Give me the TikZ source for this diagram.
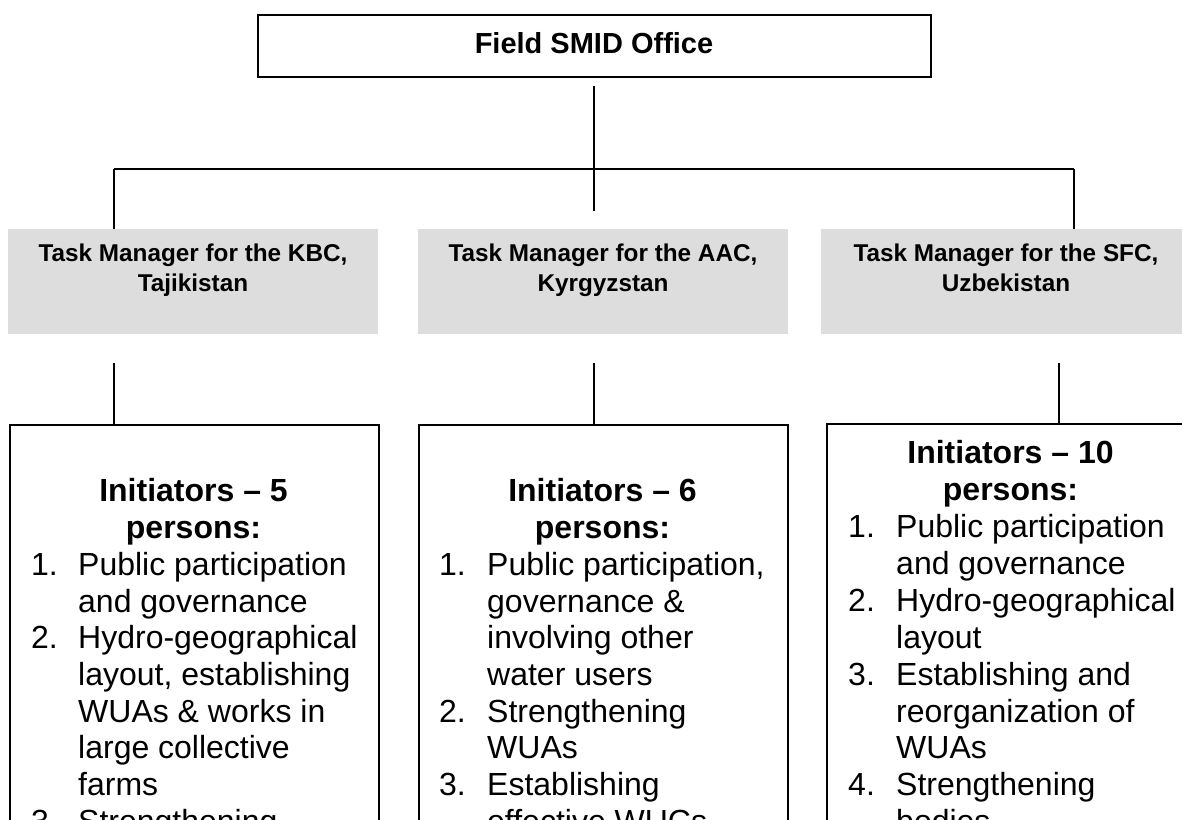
\documentclass[tikz,border=0pt]{standalone}
\usepackage{fontspec}
\setmainfont{Liberation Sans}
\definecolor{tmgray}{RGB}{221,221,221}
\begin{document}
\begin{tikzpicture}[x=1pt,y=-1pt,
  conn/.style={line width=1.8pt, black},
  topbox/.style={draw, line width=1.8pt, minimum width=673pt, minimum height=62pt, inner sep=0pt},
  toptext/.style={anchor=base, inner sep=0pt, font=\fontsize{29}{34}\selectfont\bfseries},
  tmbox/.style={fill=tmgray, minimum width=370pt, minimum height=105pt, inner sep=0pt, anchor=north west},
  tmtext/.style={anchor=base, inner sep=0pt, font=\fontsize{24.3}{30}\selectfont\bfseries},
  inbox/.style={draw, line width=1.8pt, minimum width=369pt, minimum height=430pt, inner sep=0pt, anchor=north west},
  headtext/.style={anchor=base, inner sep=0pt, font=\fontsize{32}{37}\selectfont\bfseries},
  numtext/.style={anchor=base west, inner sep=0pt, font=\fontsize{32}{37}\selectfont},
  itemtext/.style={anchor=base west, inner sep=0pt, font=\fontsize{32}{37}\selectfont}
]
\useasboundingbox (0,0) rectangle (1182,819);
\clip (0,0) rectangle (1182,819);

% top box
\node[topbox] (top) at (594.5,46) {};
\node[toptext] (toptxt) at (594,53) {Field SMID Office};

% task manager boxes
\node[tmbox] (tm1) at (8,229) {};
\node[tmbox] (tm2) at (418,229) {};
\node[tmbox] (tm3) at (821,229) {};
\node[tmtext] (tm1a) at (193,261) {Task Manager for the KBC,};
\node[tmtext] (tm1b) at (193,291) {Tajikistan};
\node[tmtext] (tm2a) at (603,261) {Task Manager for the AAC,};
\node[tmtext] (tm2b) at (603,291) {Kyrgyzstan};
\node[tmtext] (tm3a) at (1006,261) {Task Manager for the SFC,};
\node[tmtext] (tm3b) at (1006,291) {Uzbekistan};

% initiator boxes
\node[inbox] (in1) at (9,424) {};
\node[inbox] (in2) at (418,424) {};
\node[inbox] (in3) at (826,423) {};

% connector coordinates
\coordinate (cTop) at (594,86);
\coordinate (cEnd) at (594,211);
\coordinate (hL) at (114,169);
\coordinate (hR) at (1074,169);
\coordinate (d1) at (114,363);
\coordinate (d2) at (594,363);
\coordinate (d3) at (1059,363);

\draw[conn] (cTop) -- (cEnd);
\draw[conn] (hL) -- (hR);
\draw[conn] (hL) -- (hL |- tm1.north);
\draw[conn] (hR) -- (hR |- tm3.north);
\draw[conn] (d1) -- (d1 |- in1.north);
\draw[conn] (d2) -- (d2 |- in2.north);
\draw[conn] (d3) -- (d3 |- in3.north);

% box 1 text
\node[headtext] (h1a) at (193.5,501) {Initiators – 5};
\node[headtext] (h1b) at (193.5,538) {persons:};
\node[numtext] (n11) at (31,575) {1.};
\node[itemtext] (t11) at (78,575) {Public participation};
\node[itemtext] (t12) at (78,612) {and governance};
\node[numtext] (n12) at (31,648) {2.};
\node[itemtext] (t13) at (78,648) {Hydro-geographical};
\node[itemtext] (t14) at (78,685) {layout, establishing};
\node[itemtext] (t15) at (78,722) {WUAs \& works in};
\node[itemtext] (t16) at (78,758) {large collective};
\node[itemtext] (t17) at (78,795) {farms};
\node[numtext] (n13) at (31,832) {3.};
\node[itemtext] (t18) at (78,832) {Strengthening};

% box 2 text
\node[headtext] (h2a) at (602.5,501) {Initiators – 6};
\node[headtext] (h2b) at (602.5,538) {persons:};
\node[numtext] (n21) at (439,575) {1.};
\node[itemtext] (t21) at (487,575) {Public participation,};
\node[itemtext] (t22) at (487,612) {governance \&};
\node[itemtext] (t23) at (487,648) {involving other};
\node[itemtext] (t24) at (487,685) {water users};
\node[numtext] (n22) at (439,722) {2.};
\node[itemtext] (t25) at (487,722) {Strengthening};
\node[itemtext] (t26) at (487,758) {WUAs};
\node[numtext] (n23) at (439,795) {3.};
\node[itemtext] (t27) at (487,795) {Establishing};
\node[itemtext] (t28) at (487,832) {effective WUCs};

% box 3 text
\node[headtext] (h3a) at (1010.5,463) {Initiators – 10};
\node[headtext] (h3b) at (1010.5,500) {persons:};
\node[numtext] (n31) at (848,537) {1.};
\node[itemtext] (t31) at (896,537) {Public participation};
\node[itemtext] (t32) at (896,574) {and governance};
\node[numtext] (n32) at (848,611) {2.};
\node[itemtext] (t33) at (896,611) {Hydro-geographical};
\node[itemtext] (t34) at (896,648) {layout};
\node[numtext] (n33) at (848,685) {3.};
\node[itemtext] (t35) at (896,685) {Establishing and};
\node[itemtext] (t36) at (896,722) {reorganization of};
\node[itemtext] (t37) at (896,758) {WUAs};
\node[numtext] (n34) at (848,795) {4.};
\node[itemtext] (t38) at (896,795) {Strengthening};
\node[itemtext] (t39) at (896,832) {bodies};
\end{tikzpicture}
\end{document}
